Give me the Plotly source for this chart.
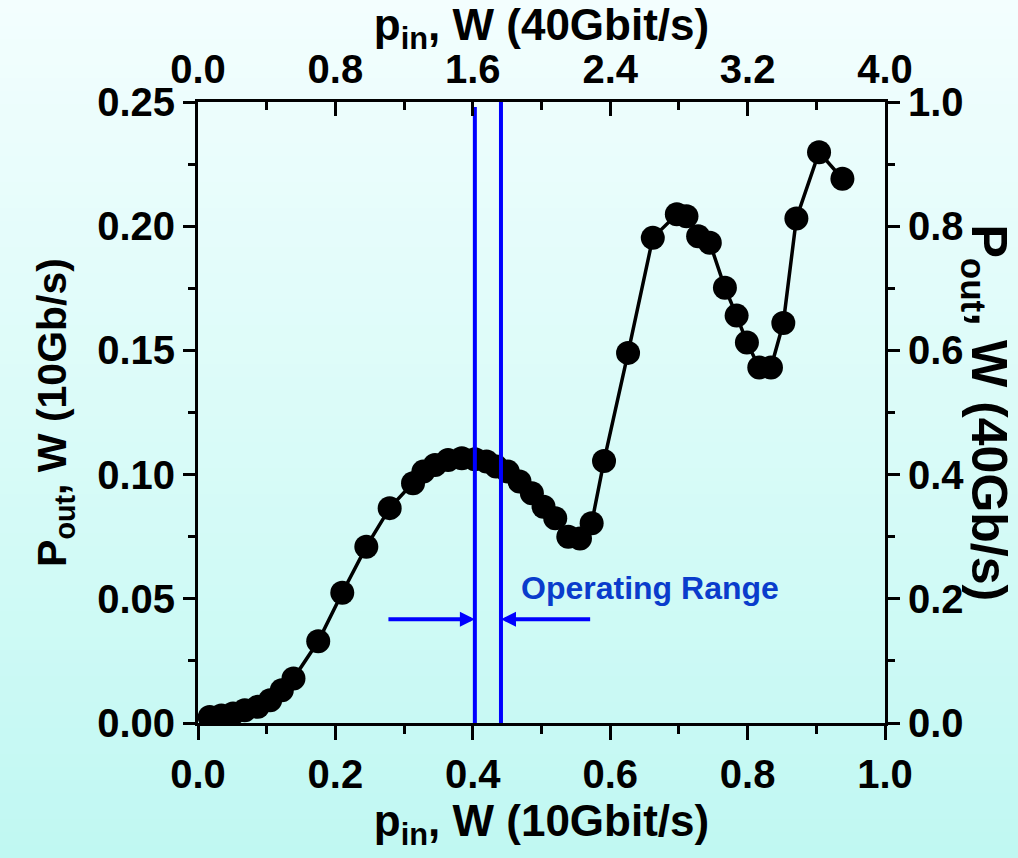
import plotly.graph_objects as go

# ---- data ----
pin_10g = [0.017, 0.034, 0.051, 0.068, 0.087, 0.105, 0.122, 0.139, 0.175, 0.210,
           0.245, 0.279, 0.313, 0.328, 0.345, 0.364, 0.384, 0.403, 0.420, 0.434,
           0.451, 0.468, 0.486, 0.503, 0.520, 0.539, 0.556, 0.573, 0.591, 0.626,
           0.662, 0.697, 0.711, 0.728, 0.745, 0.767, 0.784, 0.799, 0.817, 0.834,
           0.852, 0.871, 0.904, 0.938]
pout_10g = [0.0024, 0.0030, 0.0038, 0.0051, 0.0065, 0.0092, 0.0132, 0.0179, 0.0329, 0.0524,
            0.0710, 0.0865, 0.0965, 0.1012, 0.1039, 0.1059, 0.1066, 0.1062, 0.1053, 0.1033,
            0.1012, 0.0972, 0.0925, 0.0871, 0.0824, 0.0750, 0.0743, 0.0804, 0.1055, 0.1490,
            0.1953, 0.2048, 0.2040, 0.1960, 0.1933, 0.1752, 0.1640, 0.1532, 0.1431, 0.1431,
            0.1610, 0.2031, 0.2298, 0.2191]

op_range_x = [0.403, 0.441]        # operating range bounds (10 Gbit/s axis)
op_range_top = [0.248, 0.2515]     # top ends of the two blue lines
arrow_y = 0.0418
arrow_tail_x = [0.275, 0.573]
label_text = "Operating Range"
label_pos = (0.658, 0.0543)

x_bottom_ticks = [0.0, 0.2, 0.4, 0.6, 0.8, 1.0]
x_top_ticks = [0.0, 0.8, 1.6, 2.4, 3.2, 4.0]
y_left_ticks = [0.00, 0.05, 0.10, 0.15, 0.20, 0.25]
y_right_ticks = [0.0, 0.2, 0.4, 0.6, 0.8, 1.0]

W, H = 1018, 858
ML, MR, MT, MB = 198, 133, 102, 135

FONT = "Liberation Sans, Arial, sans-serif"
tickfont = dict(family=FONT, size=40, color="black", weight="bold")
titlefont = dict(family=FONT, size=44, color="black", weight="bold")

fig = go.Figure()

fig.add_trace(go.Scatter(
    x=pin_10g, y=pout_10g, mode="lines+markers",
    line=dict(color="black", width=3.5),
    marker=dict(color="black", size=24, line=dict(width=0)),
    showlegend=False, hoverinfo="skip"))

for xv, yt in zip(op_range_x, op_range_top):
    fig.add_trace(go.Scatter(
        x=[xv, xv], y=[0, yt], mode="lines",
        line=dict(color="#0000ff", width=4),
        showlegend=False, hoverinfo="skip", cliponaxis=False))

# invisible trace that activates the top (40 Gbit/s) and right axes
fig.add_trace(go.Scatter(
    x=x_top_ticks, y=y_right_ticks, xaxis="x2", yaxis="y2", mode="markers",
    marker=dict(opacity=0, size=1), showlegend=False, hoverinfo="skip"))

# background gradient (light cyan)
shapes = []
n = 66
top_c = (243, 254, 254)
bot_c = (192, 248, 242)
ph = H - MT - MB
for i in range(n):
    py0 = i * H / n
    py1 = (i + 1) * H / n + 1
    t = (i + 0.5) / n
    c = tuple(round(a + (b - a) * t) for a, b in zip(top_c, bot_c))
    shapes.append(dict(type="rect", xref="paper", yref="paper",
                       x0=-0.5, x1=1.5,
                       y0=(H - MB - py1) / ph, y1=(H - MB - py0) / ph,
                       fillcolor="rgb(%d,%d,%d)" % c, line=dict(width=0),
                       layer="below"))

annotations = []
for xt, tail in zip(op_range_x, arrow_tail_x):
    annotations.append(dict(x=xt, y=arrow_y, ax=tail, ay=arrow_y,
                            xref="x", yref="y", axref="x", ayref="y",
                            text="", showarrow=True, arrowhead=2, arrowsize=0.75,
                            arrowwidth=4, arrowcolor="#0000ff",
                            standoff=0, startstandoff=0))
annotations.append(dict(x=label_pos[0], y=label_pos[1], xref="x", yref="y",
                        text=label_text, showarrow=False,
                        font=dict(family=FONT, size=32, color="#0a3ccc", weight="bold")))
# right axis title (reads top to bottom)
annotations.append(dict(x=1.0 + 100 / 687, y=0.5, xref="paper", yref="paper",
                        text="P<sub>out</sub>, W (40Gb/s)", textangle=90,
                        showarrow=False,
                        font=dict(family=FONT, size=50, color="black", weight="bold"),
                        xanchor="center", yanchor="middle"))

axis_common = dict(showline=True, linecolor="black", linewidth=3, showgrid=False,
                   zeroline=False, tickcolor="black", tickwidth=3,
                   tickfont=tickfont)

fig.update_layout(
    width=W, height=H,
    margin=dict(l=ML, r=MR, t=MT, b=MB, autoexpand=False),
    paper_bgcolor="rgb(220,251,250)", plot_bgcolor="rgba(0,0,0,0)",
    shapes=shapes, annotations=annotations,
    xaxis=dict(range=[0, 1], tickvals=x_bottom_ticks, tickformat=".1f",
               ticks="outside", ticklen=14,
               minor=dict(dtick=0.1, tick0=0, ticks="outside", ticklen=8,
                          tickwidth=3, tickcolor="black"),
               title=dict(text="p<sub>in</sub>, W (10Gbit/s)", font=titlefont, standoff=0),
               **axis_common),
    xaxis2=dict(range=[0, 4], tickvals=x_top_ticks, tickformat=".1f",
                overlaying="x", side="top", anchor="y",
                ticks="inside", ticklen=14,
                minor=dict(dtick=0.4, tick0=0, ticks="inside", ticklen=8,
                           tickwidth=3, tickcolor="black"),
                title=dict(text="p<sub>in</sub>, W (40Gbit/s)", font=titlefont, standoff=0),
                **axis_common),
    yaxis=dict(range=[0, 0.25], tickvals=y_left_ticks, tickformat=".2f",
               ticks="outside", ticklen=12,
               minor=dict(dtick=0.025, tick0=0, ticks="outside", ticklen=7,
                          tickwidth=3, tickcolor="black"),
               title=dict(text="P<sub>out</sub>, W (10Gb/s)",
                          font=dict(family=FONT, size=41, color="black", weight="bold"),
                          standoff=18),
               **axis_common),
    yaxis2=dict(range=[0, 1], tickvals=y_right_ticks, tickformat=".1f",
                overlaying="y", side="right", anchor="x",
                ticks="outside", ticklen=12,
                minor=dict(dtick=0.1, tick0=0, ticks="outside", ticklen=7,
                           tickwidth=3, tickcolor="black"),
                **axis_common),
)

fig.write_html("out.html", config={"displayModeBar": False},
               post_script="document.body.style.margin='0';document.body.style.overflow='hidden';")
